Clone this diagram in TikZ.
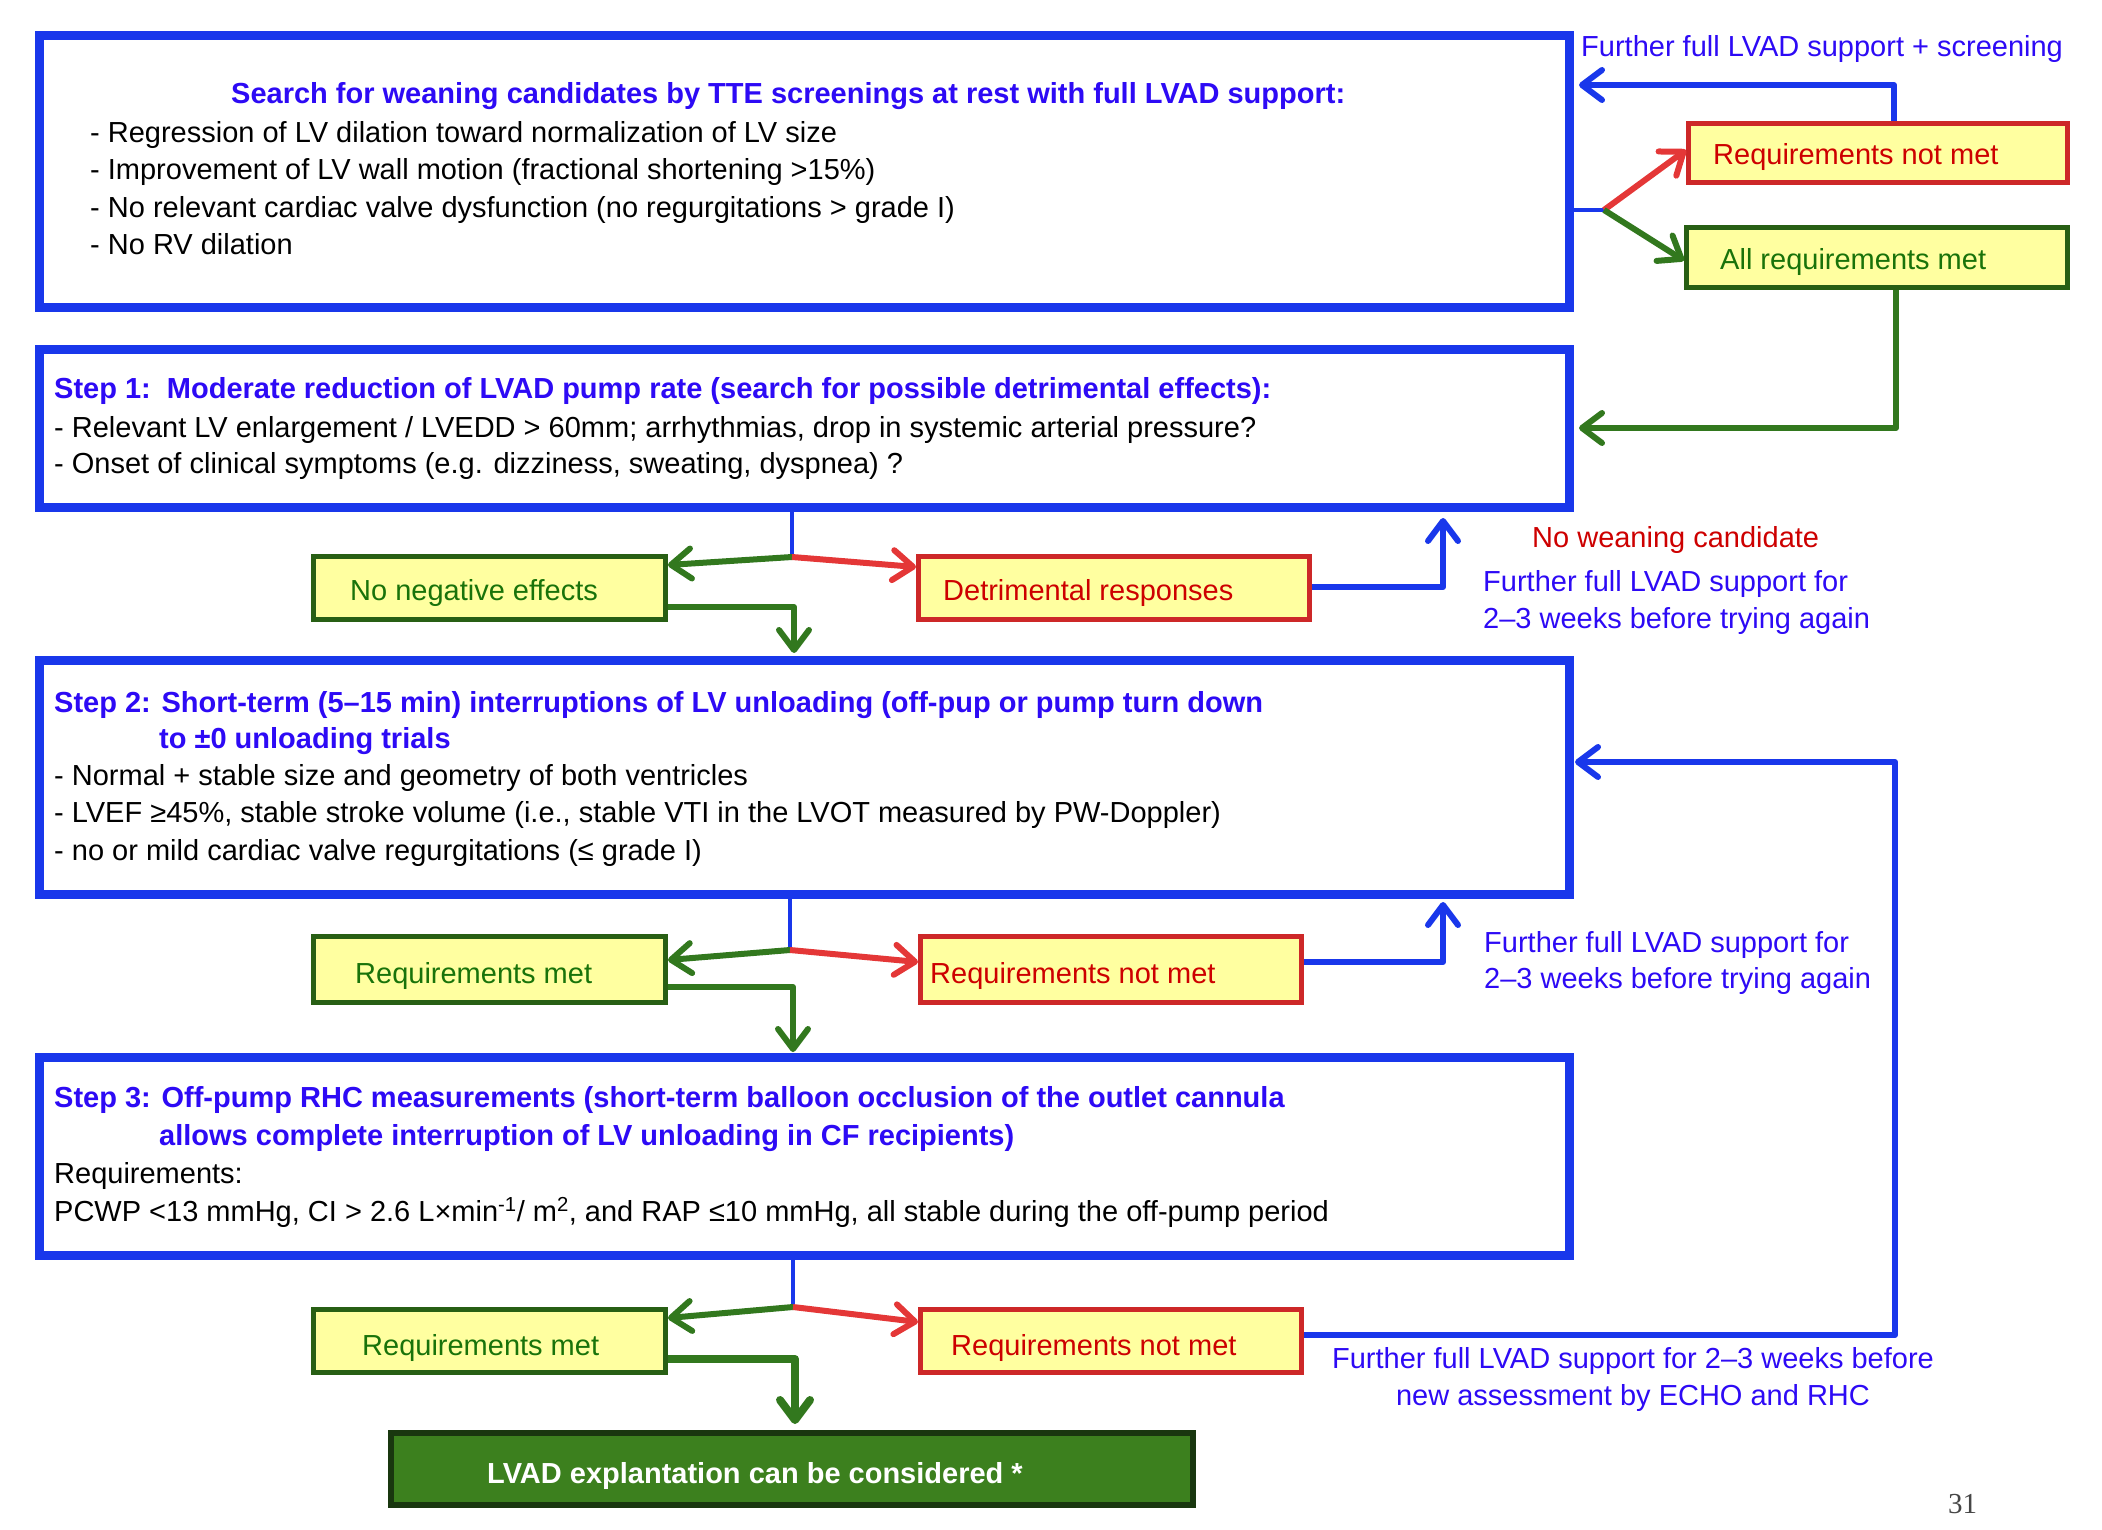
\documentclass[tikz,border=0pt]{standalone}
\usepackage{fontspec}
\setmainfont{Liberation Sans}
\newfontfamily\numfont{Liberation Serif}
\usetikzlibrary{arrows.meta}
\definecolor{boxblue}{RGB}{25,55,235}
\definecolor{txtblue}{RGB}{45,10,245}
\definecolor{txtred}{RGB}{205,0,0}
\definecolor{bordred}{RGB}{205,40,40}
\definecolor{arrred}{RGB}{228,55,55}
\definecolor{txtgreen}{RGB}{25,115,10}
\definecolor{bordgreen}{RGB}{40,95,20}
\definecolor{arrgreen}{RGB}{50,120,30}
\definecolor{yfill}{RGB}{255,255,160}
\definecolor{finfill}{RGB}{60,128,30}
\definecolor{finbord}{RGB}{25,55,15}
\definecolor{numgray}{RGB}{70,70,70}
\newcommand\fsz{\fontsize{29pt}{37.5pt}\selectfont}
\begin{document}
\begin{tikzpicture}[x=1pt,y=-1pt,
  bigbox/.style={draw=boxblue, line width=9pt, fill=white, inner sep=0pt, minimum width=1530pt},
  ybox/.style={fill=yfill, line width=5pt, inner sep=0pt},
  rbox/.style={ybox, draw=bordred},
  gbox/.style={ybox, draw=bordgreen},
  finbox/.style={fill=finfill, draw=finbord, line width=6pt, inner sep=0pt},
  txt/.style={anchor=base west, inner sep=0pt, font=\fsz},
  btxt/.style={txt, font=\fsz\bfseries, text=txtblue},
  bluetxt/.style={txt, text=txtblue},
  redtxt/.style={txt, text=txtred},
  greentxt/.style={txt, text=txtgreen},
  tip/.style={-{Straight Barb[length=20pt 0 0, width=30pt 0 0, round]}},
  bcon/.style={draw=boxblue, line width=6pt, line join=round},
  bthin/.style={draw=boxblue, line width=4.5pt},
  gcon/.style={draw=arrgreen, line width=6pt, line join=round},
  rcon/.style={draw=arrred, line width=6pt, line join=round}
]
\useasboundingbox (0,0) rectangle (2102,1530);

% ---- main boxes
\node[bigbox, minimum height=272pt] (top) at (804.5,171.5) {};
\node[bigbox, minimum height=158pt] (step1) at (804.5,428.5) {};
\node[bigbox, minimum height=234pt] (step2) at (804.5,777.5) {};
\node[bigbox, minimum height=198pt] (step3) at (804.5,1156.5) {};

% ---- small boxes
\node[rbox, minimum width=379pt, minimum height=59pt] (rnm0) at (1878,153) {};
\node[gbox, minimum width=381pt, minimum height=60pt] (arm) at (1877,257.5) {};
\node[gbox, minimum width=352pt, minimum height=63pt] (nne) at (489.5,588) {};
\node[rbox, minimum width=391pt, minimum height=63pt] (dr) at (1114,588) {};
\node[gbox, minimum width=352pt, minimum height=66pt] (rm2) at (489.5,969.5) {};
\node[rbox, minimum width=381pt, minimum height=66pt] (rnm2) at (1111,969.5) {};
\node[gbox, minimum width=352pt, minimum height=63pt] (rm3) at (489.5,1341) {};
\node[rbox, minimum width=381pt, minimum height=63pt] (rnm3) at (1111,1341) {};
\node[finbox, minimum width=802pt, minimum height=72pt] (final) at (792,1469) {};

% ---- texts in top box
\node[btxt] (t0) at (231,104) {Search for weaning candidates by TTE screenings at rest with full LVAD support:};
\node[txt] (t1) at (90,143) {- Regression of LV dilation toward normalization of LV size};
\node[txt] (t2) at (90,180) {- Improvement of LV wall motion (fractional shortening >15\%)};
\node[txt] (t3) at (90,218) {- No relevant cardiac valve dysfunction (no regurgitations > grade I)};
\node[txt] (t4) at (90,255) {- No RV dilation};

% ---- step 1
\node[btxt] (s1a) at (54,398) {Step 1:\ \ Moderate reduction of LVAD pump rate (search for possible detrimental effects):};
\node[txt] (s1b) at (54,437) {- Relevant LV enlargement / LVEDD > 60mm; arrhythmias, drop in systemic arterial pressure?};
\node[txt] (s1c) at (54,473) {- Onset of clinical symptoms (e.g. dizziness, sweating, dyspnea) ?};

% ---- step 2
\node[btxt] (s2a) at (54,712) {Step 2: Short-term (5–15 min) interruptions of LV unloading (off-pup or pump turn down};
\node[btxt] (s2b) at (159,748) {to ±0 unloading trials};
\node[txt] (s2c) at (54,785) {- Normal + stable size and geometry of both ventricles};
\node[txt] (s2d) at (54,822) {- LVEF ≥45\%, stable stroke volume (i.e., stable VTI in the LVOT measured by PW-Doppler)};
\node[txt] (s2e) at (54,860) {- no or mild cardiac valve regurgitations (≤ grade I)};

% ---- step 3
\node[btxt] (s3a) at (54,1107) {Step 3: Off-pump RHC measurements (short-term balloon occlusion of the outlet cannula};
\node[btxt] (s3b) at (159,1145) {allows complete interruption of LV unloading in CF recipients)};
\node[txt] (s3c) at (54,1183) {Requirements:};
\node[txt] (s3d) at (54,1221) {PCWP <13 mmHg, CI > 2.6 L×min\textsuperscript{-1}/ m\textsuperscript{2}, and RAP ≤10 mmHg, all stable during the off-pump period};

% ---- small box texts
\node[redtxt] (l0) at (1713,165) {Requirements not met};
\node[greentxt] (l1) at (1720,270) {All requirements met};
\node[greentxt] (l2) at (350,600) {No negative effects};
\node[redtxt] (l3) at (943,600) {Detrimental responses};
\node[greentxt] (l4) at (355,983) {Requirements met};
\node[redtxt] (l5) at (930,983) {Requirements not met};
\node[greentxt] (l6) at (362,1355) {Requirements met};
\node[redtxt] (l7) at (951,1355) {Requirements not met};
\node[txt, font=\fsz\bfseries, text=white] (l8) at (487,1483) {LVAD explantation can be considered *};

% ---- side labels
\node[bluetxt] (n0) at (1581,57) {Further full LVAD support + screening};
\node[redtxt] (n1) at (1532,547) {No weaning candidate};
\node[bluetxt] (n2) at (1483,591) {Further full LVAD support for};
\node[bluetxt] (n3) at (1483,628) {2–3 weeks before trying again};
\node[bluetxt] (n4) at (1484,952) {Further full LVAD support for};
\node[bluetxt] (n5) at (1484,988) {2–3 weeks before trying again};
\node[anchor=base, inner sep=0pt, font=\fsz, text=txtblue] (n6) at (1633,1368) {Further full LVAD support for 2–3 weeks before};
\node[anchor=base, inner sep=0pt, font=\fsz, text=txtblue] (n7) at (1633,1405) {new assessment by ECHO and RHC};
\node[anchor=base west, inner sep=0pt, font=\numfont\fontsize{29pt}{30pt}\selectfont, text=numgray] (pg) at (1948,1513) {31};

% ---- coordinates for junctions and bends
\coordinate (j0) at (1604,210);
\coordinate (c0) at (1894,85);
\coordinate (c1) at (1896,428);
\coordinate (j1) at (792,557);
\coordinate (c2) at (794,607);
\coordinate (c3) at (1443,587);
\coordinate (j2) at (790,950);
\coordinate (c4) at (793,987);
\coordinate (c5) at (1443,962);
\coordinate (j3) at (793,1307);
\coordinate (c6) at (795,1359);
\coordinate (c7) at (1895,1335);
\coordinate (c8) at (1895,762);

% ---- connectors: top
\draw[bthin] (top.east |- j0) -- (j0);
\draw[rcon, tip] (j0) -- ([yshift=3pt]rnm0.west);
\draw[gcon, tip] (j0) -- ([yshift=-3pt]arm.west);
\draw[bcon, tip, shorten >=5pt] (rnm0.north -| c0) -- (c0) -- (c0 -| top.east);
\draw[gcon, tip, shorten >=5pt] (arm.south -| c1) -- (c1) -- (c1 -| step1.east);

% ---- connectors: step 1
\draw[bthin] (step1.south -| j1) -- (j1);
\draw[gcon, tip] (j1) -- ([yshift=23pt]nne.east);
\draw[rcon, tip] (j1) -- ([yshift=21pt]dr.west);
\draw[gcon, tip, shorten >=3pt] (nne.east |- c2) -- (c2) -- (c2 |- step2.north);
\draw[bcon, tip, shorten >=6pt] (dr.east |- c3) -- (c3) -- (c3 |- step1.south);

% ---- connectors: step 2
\draw[bthin] (step2.south -| j2) -- (j2);
\draw[gcon, tip] (j2) -- ([yshift=9.5pt]rm2.east);
\draw[rcon, tip] (j2) -- ([yshift=7.5pt]rnm2.west);
\draw[gcon, tip, shorten >=1pt] (rm2.east |- c4) -- (c4) -- (c4 |- step3.north);
\draw[bcon, tip, shorten >=3pt] (rnm2.east |- c5) -- (c5) -- (c5 |- step2.south);

% ---- connectors: step 3
\draw[bthin] (step3.south -| j3) -- (j3);
\draw[gcon, tip] (j3) -- ([yshift=23pt]rm3.east);
\draw[rcon, tip] (j3) -- ([yshift=19pt]rnm3.west);
\draw[gcon, line width=8pt, tip, shorten >=6pt] (rm3.east |- c6) -- (c6) -- (c6 |- final.north);
\draw[bcon, tip, shorten >=1pt] (rnm3.east |- c7) -- (c7) -- (c8) -- (c8 -| step2.east);
\end{tikzpicture}
\end{document}
